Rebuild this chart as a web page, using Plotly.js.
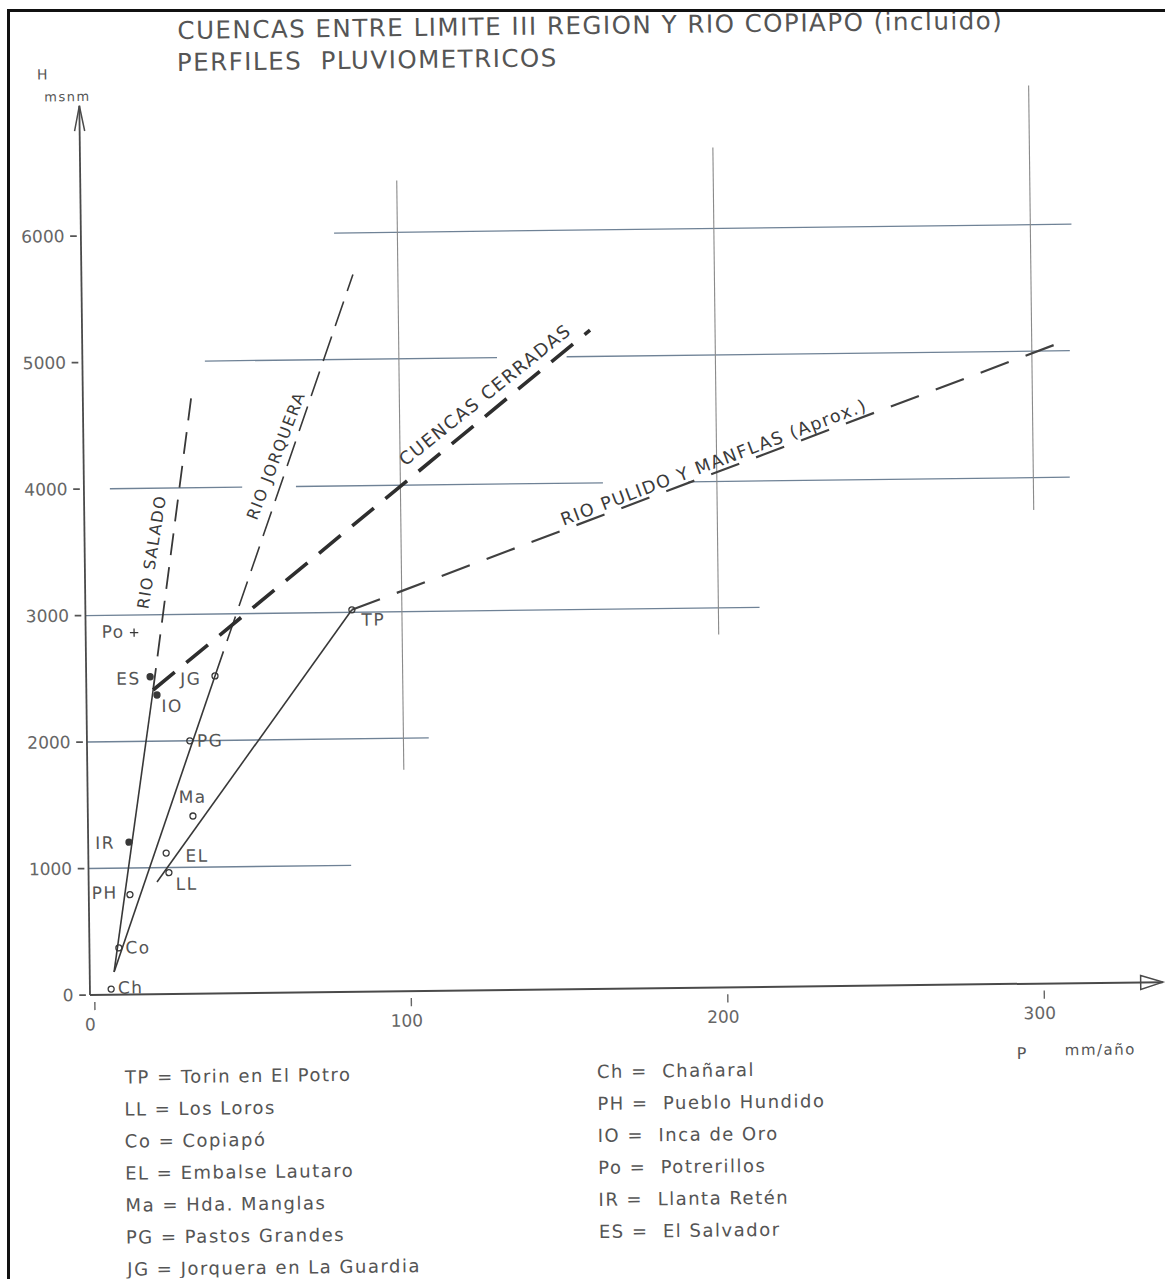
<!DOCTYPE html>
<html><head><meta charset="utf-8">
<script src="https://cdn.plot.ly/plotly-3.0.1.min.js"></script>
<style>
html,body{margin:0;padding:0;background:#fff;width:1165px;height:1279px;overflow:hidden;}
#plot{position:absolute;left:0;top:0;width:1165px;height:1279px;transform:rotate(-0.6875deg);transform-origin:90px 995px;}
text.annotation-text{letter-spacing:1.5px;}
#frame{position:absolute;left:7px;top:9px;width:1165px;height:1279px;border-left:3px solid #111;border-top:3px solid #111;pointer-events:none;}
</style></head><body>
<div id="plot"></div><div id="frame"></div>
<script>
// ---- data (P in mm/año, H in msnm) ----
const stationCode = ['Ch','Co','PH','IR','LL','EL','Ma','PG','JG','IO','ES','Po','TP'];
const stationP    = [6.7, 9.3, 13.0, 12.9, 25.4, 24.6, 33.2, 32.5, 40.7, 22.3, 20.2, 15.3, 84.2];
const stationH    = [45, 370, 790, 1205, 960, 1115, 1405, 2000, 2510, 2365, 2510, 2860, 3020];

const solidSaladoP = [7.7, 21.1],  solidSaladoH = [180, 2405];
const solidJorqueraP = [7.7, 40.7], solidJorqueraH = [180, 2510];
const solidTorinP = [21.6, 84.2],  solidTorinH = [887, 3020];

const rioSaladoP = [21.1, 34.5],   rioSaladoH = [2405, 4760];
const rioJorqueraP = [40.7, 85.8], rioJorqueraH = [2510, 5670];
const cuencasP = [21.1, 160.5],    cuencasH = [2405, 5209];
const pulidoP = [84.2, 309.6],     pulidoH = [3020, 5070];

const profileNames = ['RIO SALADO','RIO JORQUERA','CUENCAS CERRADAS','RIO PULIDO Y MANFLAS (Aprox.)'];

// partial hand-drawn grid
const hGridH    = [1000, 2000, 3000, 4000, 4000, 4000, 5000, 5000, 6000];
const hGridFrom = [0, 0, 0, 8.2, 67, 191, 38.7, 153, 80];
const hGridTo   = [83, 108, 213, 50, 164, 311.5, 131, 312, 313];
const vGridP    = [100, 200, 300];
const vGridFrom = [1750, 2790, 3745];
const vGridTo   = [6410, 6640, 7100];

const xTicks = [0, 100, 200, 300];
const yTicks = [0, 1000, 2000, 3000, 4000, 5000, 6000];

const titleLines = ['CUENCAS ENTRE LIMITE III REGION Y RIO COPIAPO (incluido)', 'PERFILES\u00a0 PLUVIOMETRICOS'];
const legendLeft = ['TP = Torin en El Potro','LL = Los Loros','Co = Copiapó','EL = Embalse Lautaro','Ma = Hda. Manglas','PG = Pastos Grandes','JG = Jorquera en La Guardia'];
const legendRight = ['Ch =\u00a0 Chañaral','PH =\u00a0 Pueblo Hundido','IO =\u00a0 Inca de Oro','Po =\u00a0 Potrerillos','IR =\u00a0 Llanta Retén','ES =\u00a0 El Salvador'];

// ---- styles ----
const FONT = 'DejaVu Sans';
const TXT = '#555';
const INK = '#383838';
const symbols = ['circle-open','circle-open','circle-open','circle','circle-open','circle-open','circle-open','circle-open','circle-open','circle','circle','cross-thin-open','circle-open'];
const labelDX = [20, 19, -25, -24, 18, 31, 0, 20, -25, 15, -21, -21, 21];
const labelDY = [1, 0, 2, 0, -11, -3, 19, 0, -3, -11, -2, 1, -10];
const profileLabelPos = [[21.3,3496,-80.3,16],[60.8,4251,-68.3,16],[127,4706,-38,18],[198.9,4154,-20.1,17.5]];

const X0 = -6.32, X1 = 339.66, Y0 = -197.6, Y1 = 7154.2;
const px = x => (x - X0) / (X1 - X0);
const py = y => (y - Y0) / (Y1 - Y0);

const traces = [];
hGridH.forEach((h,i)=>traces.push({x:[hGridFrom[i],hGridTo[i]], y:[h,h], mode:'lines', line:{color:'#6f8296', width:1.3}, hoverinfo:'skip'}));
vGridP.forEach((p,i)=>traces.push({x:[p,p], y:[vGridFrom[i],vGridTo[i]], mode:'lines', line:{color:'#8a8a8a', width:1.1}, hoverinfo:'skip'}));

[[solidSaladoP,solidSaladoH],[solidJorqueraP,solidJorqueraH],[solidTorinP,solidTorinH]].forEach(s=>traces.push({x:s[0], y:s[1], mode:'lines', line:{color:INK, width:1.6}}));

traces.push({x:rioSaladoP, y:rioSaladoH, mode:'lines', line:{color:INK, width:1.8, dash:'22px,12px'}});
traces.push({x:rioJorqueraP, y:rioJorqueraH, mode:'lines', line:{color:INK, width:1.6, dash:'26px,11px'}});
traces.push({x:cuencasP, y:cuencasH, mode:'lines', line:{color:'#2e2e2e', width:3.6, dash:'28px,15px'}});
traces.push({x:pulidoP, y:pulidoH, mode:'lines', line:{color:'#404040', width:2.2, dash:'30px,18px'}});

traces.push({x:stationP, y:stationH, mode:'markers', marker:{symbol:symbols, size:6, color:INK, line:{color:INK, width:1.3}}});

const ann = [];
const T = (x, y, text, size, extra) => Object.assign({x:px(x), y:py(y), xref:'paper', yref:'paper', xanchor:'center', yanchor:'middle', text:text, showarrow:false, font:{family:FONT, size:size, color:TXT}}, extra || {});
stationCode.forEach((c,i)=>ann.push({x:stationP[i], y:stationH[i], xref:'x', yref:'y', xanchor:'center', yanchor:'middle', text:c, showarrow:false, xshift:labelDX[i], yshift:labelDY[i], font:{family:FONT, size:17, color:TXT}}));
profileNames.forEach((n,i)=>{const p=profileLabelPos[i]; ann.push(T(p[0], p[1], n, p[3], {textangle:p[2], font:{family:FONT, size:p[3], color:'#3a3a3a'}}));});
ann.push(T(30.5, 7613, titleLines[0], 24.5, {xanchor:'left'}));
ann.push(T(30.4, 7360, titleLines[1], 24.5, {xanchor:'left'}));
ann.push(T(-11.4, 7277, 'H', 14));
ann.push(T(-3.9, 7101, 'msnm', 13));
ann.push(T(294.3, -547, 'P', 16));
ann.push(T(319, -530, 'mm/año', 15));
legendLeft.forEach((t,i)=>ann.push(T(9.8, -651-253*i, t, 18, {xanchor:'left'})));
legendRight.forEach((t,i)=>ann.push(T(159.3, -651-253*i, t, 18, {xanchor:'left'})));

const AX = '#4a4a4a';
const shapes = [
  {type:'line', xref:'x', yref:'y', x0:0, y0:0, x1:339, y1:0, line:{color:AX, width:2}},
  {type:'line', xref:'x', yref:'y', x0:0, y0:0, x1:0, y1:7030, line:{color:AX, width:1.8}},
  {type:'path', xref:'x', yref:'y', path:'M -1.6 6830 L 0 7030 L 1.6 6830', line:{color:AX, width:1.5}},
  {type:'path', xref:'x', yref:'y', path:'M 332 55 L 339 0 L 332 -55 Z', line:{color:AX, width:1.5}}
];
// small hand-drawn tick dashes at each tick value
yTicks.forEach(v=>shapes.push({type:'line', xref:'x', yref:'y', x0:-3.4, x1:-1.3, y0:v, y1:v, line:{color:'#555', width:1.8}}));
xTicks.forEach(v=>shapes.push({type:'line', xref:'x', yref:'y', x0:v+1.5, x1:v+1.5, y0:-55, y1:-120, line:{color:'#666', width:1.4}}));

const layout = {
  width:1165, height:1279,
  margin:{l:70, r:0, t:90, b:259},
  paper_bgcolor:'rgba(0,0,0,0)', plot_bgcolor:'rgba(0,0,0,0)',
  showlegend:false,
  xaxis:{range:[X0,X1], anchor:'free', position:py(0), showgrid:false, zeroline:false, showline:false,
         tickvals:xTicks, ticktext:xTicks.map(String), ticks:'outside', ticklen:9, tickwidth:1, tickcolor:'rgba(0,0,0,0)',
         ticklabelstandoff:5, tickfont:{family:FONT, size:17, color:'#666'}},
  yaxis:{range:[Y0,Y1], anchor:'free', position:px(0), showgrid:false, zeroline:false, showline:false,
         tickvals:yTicks, ticktext:yTicks.map(String), ticks:'outside', ticklen:7, tickwidth:1, tickcolor:'rgba(0,0,0,0)',
         ticklabelstandoff:6, tickfont:{family:FONT, size:17, color:'#666'}},
  annotations:ann, shapes:shapes
};
Plotly.newPlot('plot', traces, layout, {staticPlot:true, displayModeBar:false});
</script>
</body></html>
